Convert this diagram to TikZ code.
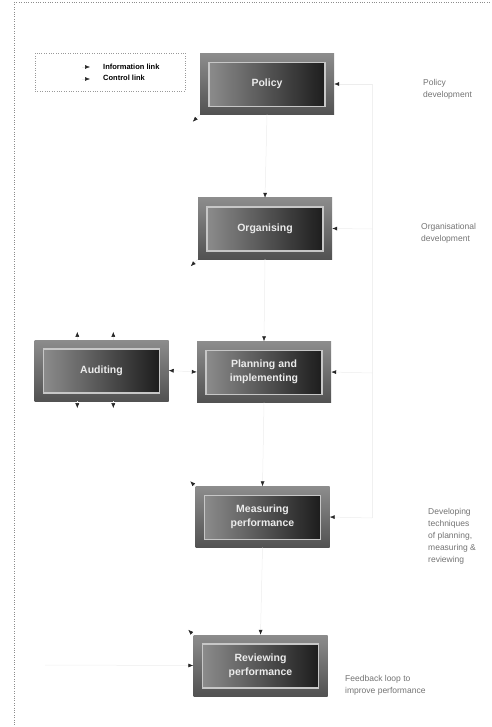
\documentclass[tikz,border=0pt]{standalone}
\usepackage{fontspec}
\setmainfont{Liberation Sans}
\setsansfont{Liberation Sans}
\usetikzlibrary{arrows.meta,calc}
\tikzset{
  procbox/.style={minimum width=134pt, minimum height=61pt, inner sep=0pt,
    font=\bfseries\fontsize{10.5}{14}\selectfont, text=black!8, align=center,
    top color=black!45, bottom color=black!68,
    path picture={\shade[draw=black!22, line width=1.3pt, left color=black!42, right color=black!92]
      ([shift={(9pt,-9pt)}]path picture bounding box.north west) rectangle
      ([shift={(-9pt,8pt)}]path picture bounding box.south east);}},
  lnk/.style={draw=black!7, line width=0.5pt, -{Latex[length=5pt,width=4pt,color=black!85]}},
  lnkb/.style={draw=black!7, line width=0.5pt, {Latex[length=5pt,width=4pt,color=black!85]}-{Latex[length=5pt,width=4pt,color=black!85]}},
  ctl/.style={draw=black!6, line width=0.5pt},
  side/.style={font=\fontsize{8.5}{12}\selectfont, text=black!55, align=left, anchor=north west, inner sep=0pt},
  legtext/.style={font=\bfseries\fontsize{7.5}{9}\selectfont, anchor=west, inner sep=0pt}
}
\begin{document}
\begin{tikzpicture}[x=1pt,y=-1pt]
\useasboundingbox (0,0) rectangle (491,727);
% page borders
\draw[black!45, dotted] (14,2) -- (491,2);
\draw[black!45, dotted] (14,2) -- (14,727);
% legend
\node[draw=black!40, dotted, minimum width=150pt, minimum height=38pt, inner sep=0pt] (legend) at (110,72) {};
\coordinate (la1) at (82,67); \coordinate (la2) at (90,67);
\coordinate (lb1) at (82,79); \coordinate (lb2) at (90,79);
\draw[lnk] (la1) -- (la2);
\draw[lnk] (lb1) -- (lb2);
\node[legtext] (l1) at (103,67) {Information link};
\node[legtext] (l2) at (103,78) {Control link};
% boxes
\node[procbox] (policy) at (267,84) {Policy};
\node[procbox] (org) at (265,228.5) {Organising};
\node[procbox] (audit) at (101.5,370.5) {Auditing};
\node[procbox] (plan) at (264,372) {Planning and\\implementing};
\node[procbox] (meas) at (262.5,517) {Measuring\\performance};
\node[procbox] (rev) at (260.5,665.5) {Reviewing\\performance};
% side texts
\node[side] (t1) at (423,79) {Policy\\development};
\node[side] (t2) at (421,223) {Organisational\\development};
\node[side] (t3) at (428,508) {Developing\\techniques\\of planning,\\measuring \&\\reviewing};
\node[side] (t4) at (345,675) {Feedback loop to\\improve performance};
% information links down the centre
\draw[lnk] (policy.south) -- (org.north);
\draw[lnk] (org.south) -- (plan.north);
\draw[lnk] (plan.south) -- (meas.north);
\draw[lnk] (meas.south) -- (rev.north);
% control links from the right
\coordinate (r1) at (372,84);
\coordinate (r2) at (372,229);
\coordinate (r3) at (372,373);
\coordinate (r4) at (372,518);
\draw[ctl] (r1) -- (r4);
\draw[lnk] (r1) -- (policy.east);
\draw[lnk] (r2) -- (org.east);
\draw[lnk] (r3) -- (plan.east);
\draw[lnk] (r4) -- (meas.east);
% auditing links
\draw[lnkb] (audit.east) -- (plan.west);
\draw[lnk] ($(audit.north west)+(43,0)$) -- ($(audit.north west)+(43,-8)$);
\draw[lnk] ($(audit.north west)+(79,0)$) -- ($(audit.north west)+(79,-8)$);
\draw[lnk] ($(audit.south west)+(43,0)$) -- ($(audit.south west)+(43,7)$);
\draw[lnk] ($(audit.south west)+(79,0)$) -- ($(audit.south west)+(79,7)$);
% corner links
\draw[lnk] (policy.south west) -- ++(-7,7);
\draw[lnk] (org.south west) -- ++(-7,7);
\draw[lnk] (meas.north west) -- ++(-5,-5);
\draw[lnk] (rev.north west) -- ++(-5,-5);
% feedback loop
\coordinate (fb) at (45,665);
\draw[lnk] (fb) -- (rev.west);
\end{tikzpicture}
\end{document}
